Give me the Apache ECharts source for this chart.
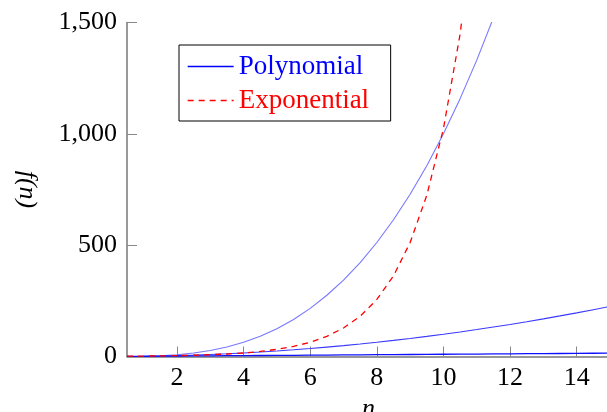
<!DOCTYPE html>
<html>
<head>
<meta charset="utf-8">
<script src="https://cdn.jsdelivr.net/npm/echarts@6/dist/echarts.min.js"></script>
<style>
  html, body { margin: 0; padding: 0; background: #fff; }
  #chart-container { width: 607px; height: 412px; }
</style>
</head>
<body>
<div id="chart-container"></div>
<script>
var dom = document.getElementById('chart-container');
var myChart = echarts.init(dom, null, {
  renderer: 'canvas',
  useDirtyRect: false
});

// n values read along the x axis
const nValues = [0.5, 1, 1.5, 2, 2.5, 3, 3.5, 4, 4.5, 5, 5.5, 6, 6.5, 7, 7.5, 8,
  8.5, 9, 9.5, 10, 10.5, 11, 11.5, 12, 12.5, 13, 13.5, 14, 14.5, 15];
// steep blue curve (cubic), runs out of the top near n = 11.5
const cubicValues = [0.1, 1, 3.4, 8, 15.6, 27, 42.9, 64, 91.1, 125, 166, 216, 275, 343,
  422, 512, 614, 729, 857, 1000, 1158, 1331, 1521, 1728];
// middle blue curve (square)
const squareValues = [0.3, 1, 2.3, 4, 6.3, 9, 12.3, 16, 20.3, 25, 30.3, 36, 42.3, 49,
  56.3, 64, 72.3, 81, 90.3, 100, 110.3, 121, 132.3, 144, 156.3, 169, 182.3, 196, 210.3, 225];
// flat blue line just above the axis
const linearValues = [0.5, 1, 1.5, 2, 2.5, 3, 3.5, 4, 4.5, 5, 5.5, 6, 6.5, 7, 7.5, 8,
  8.5, 9, 9.5, 10, 10.5, 11, 11.5, 12, 12.5, 13, 13.5, 14, 14.5, 15];
// red dashed curve, runs out of the top near n = 10.5
const expValues = [1.4, 2, 2.8, 4, 5.7, 8, 11.3, 16, 22.6, 32, 45.3, 64, 90.5, 128,
  181, 256, 362, 512, 724, 1024, 1448, 2048];

const xTicks = [2, 4, 6, 8, 10, 12, 14];
const yTicks = [0, 500, 1000, 1500];

function pairs(vals) {
  return vals.map(function (v, i) { return [nValues[i], v]; });
}

var font = 'Liberation Serif';

var option = {
  animation: false,
  backgroundColor: '#fff',
  grid: {
    left: 127,
    top: 22.5,
    width: 483,
    height: 334,
    containLabel: false,
    outerBoundsMode: 'none'
  },
  legend: {
    orient: 'vertical',
    left: 179,
    top: 45,
    backgroundColor: '#fff',
    borderColor: '#000',
    borderWidth: 1,
    borderRadius: 0,
    padding: [8, 0, 7, 8],
    itemWidth: 46,
    itemHeight: 14,
    itemGap: 7,
    textStyle: {
      fontFamily: font,
      fontSize: 27,
      lineHeight: 26,
      width: 152
    },
    data: [
      {
        name: 'Polynomial',
        itemStyle: { opacity: 0 },
        lineStyle: { color: '#0000ff', width: 1.3 },
        textStyle: { color: '#0000ff' }
      },
      {
        name: 'Exponential',
        itemStyle: { opacity: 0 },
        lineStyle: { color: '#ff0000', width: 1.3, type: [6, 5] },
        textStyle: { color: '#ff0000' }
      }
    ]
  },
  xAxis: {
    type: 'value',
    min: 0.5,
    max: 15,
    name: 'n',
    nameLocation: 'middle',
    nameGap: 33,
    nameTextStyle: {
      fontFamily: font,
      fontStyle: 'italic',
      fontSize: 26,
      color: '#000'
    },
    splitLine: { show: false },
    axisLine: { onZero: false, lineStyle: { color: '#777', width: 1.5 } },
    axisTick: {
      inside: true,
      length: 10,
      customValues: xTicks,
      lineStyle: { color: '#888', width: 1 }
    },
    axisLabel: {
      customValues: xTicks,
      margin: 9,
      fontFamily: font,
      fontSize: 26,
      color: '#000'
    }
  },
  yAxis: {
    type: 'value',
    min: 0,
    max: 1500,
    interval: 500,
    name: 'f(n)',
    nameLocation: 'middle',
    nameRotate: -90,
    nameGap: 87,
    nameTextStyle: {
      fontFamily: font,
      fontStyle: 'italic',
      fontSize: 26,
      color: '#000'
    },
    splitLine: { show: false },
    axisLine: { show: true, lineStyle: { color: '#777', width: 1.5 } },
    axisTick: {
      show: true,
      inside: true,
      length: 10,
      customValues: yTicks,
      lineStyle: { color: '#888', width: 1 }
    },
    axisLabel: {
      margin: 10,
      fontFamily: font,
      fontSize: 26,
      color: '#000',
      formatter: function (v) { return v.toLocaleString('en-US'); }
    }
  },
  series: [
    {
      name: 'Polynomial',
      type: 'line',
      symbol: 'none',
      z: 3,
      data: pairs(cubicValues),
      lineStyle: { color: '#7878ff', width: 1.1 },
      itemStyle: { color: '#0000ff' }
    },
    {
      name: 'Square',
      type: 'line',
      symbol: 'none',
      z: 3,
      data: pairs(squareValues),
      lineStyle: { color: '#3a3aff', width: 1.1 }
    },
    {
      name: 'Linear',
      type: 'line',
      symbol: 'none',
      z: 3,
      data: pairs(linearValues),
      lineStyle: { color: '#1010ff', width: 1.3 }
    },
    {
      name: 'Exponential',
      type: 'line',
      symbol: 'none',
      z: 4,
      data: pairs(expValues),
      lineStyle: { color: '#ff0000', width: 1.3, type: [6, 5] },
      itemStyle: { color: '#ff0000' }
    }
  ]
};

if (option && typeof option === 'object') {
  myChart.setOption(option);
}

window.addEventListener('resize', myChart.resize);
</script>
</body>
</html>
